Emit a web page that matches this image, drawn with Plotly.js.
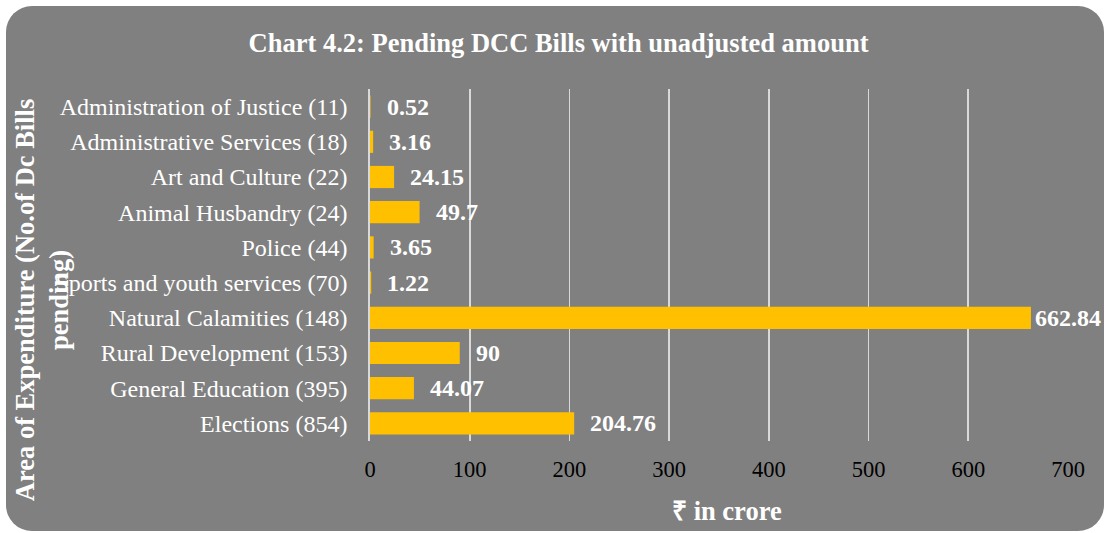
<!DOCTYPE html>
<html>
<head>
<meta charset="utf-8">
<script src="https://cdn.plot.ly/plotly-3.0.1.min.js"></script>
<style>
  html, body { margin: 0; padding: 0; background: #ffffff; }
  #bg { position: absolute; left: 6px; top: 6px; width: 1098px; height: 525px; background: #808080; border-radius: 26px; }
  #chart { position: absolute; left: 0; top: 0; width: 1106px; height: 533px; }
</style>
</head>
<body>
<div id="bg"></div>
<div id="chart"></div>
<script>
const categories = [
  "Elections (854)",
  "General Education (395)",
  "Rural Development (153)",
  "Natural Calamities (148)",
  "Sports and youth services (70)",
  "Police (44)",
  "Animal Husbandry (24)",
  "Art and Culture (22)",
  "Administrative Services (18)",
  "Administration of Justice (11)"
];
const values = [204.76, 44.07, 90, 662.84, 1.22, 3.65, 49.7, 24.15, 3.16, 0.52];
const labels = ["204.76", "44.07", "90", "662.84", "1.22", "3.65", "49.7", "24.15", "3.16", "0.52"];
const xTicks = [0, 100, 200, 300, 400, 500, 600, 700];

const serif = "Liberation Serif, Times New Roman, serif";

const trace = {
  type: "bar",
  orientation: "h",
  y: categories,
  x: values,
  marker: { color: "#FFC000" },
  hoverinfo: "x+y"
};

const annotations = values.map((v, i) => ({
  x: v, y: categories[i], xref: "x", yref: "y",
  text: "<b>" + labels[i] + "</b>",
  showarrow: false, xanchor: "left", yanchor: "middle",
  xshift: v > 600 ? 2 : 14,
  font: { family: serif, size: 24, color: "#ffffff" }
}));

annotations.push({
  text: "<b>Area of Expenditure (No.of Dc Bills<br>pending)</b>",
  textangle: -90, showarrow: false,
  xref: "paper", yref: "paper",
  x: -0.47, y: 0.40, xanchor: "center", yanchor: "middle",
  font: { family: serif, size: 26.5, color: "#ffffff" }
});

annotations.push({
  text: "<b>₹ in crore</b>",
  showarrow: false, xref: "paper", yref: "paper",
  x: 0.511, y: -0.20, xanchor: "center", yanchor: "middle",
  font: { family: serif, size: 26.5, color: "#ffffff" }
});

const layout = {
  width: 1106, height: 533,
  paper_bgcolor: "rgba(0,0,0,0)",
  plot_bgcolor: "rgba(0,0,0,0)",
  margin: { l: 370, r: 38, t: 89, b: 92 },
  showlegend: false,
  bargap: 0.37,
  title: {
    text: "<b>Chart 4.2: Pending DCC Bills with unadjusted amount</b>",
    font: { family: serif, size: 26.5, color: "#ffffff" },
    x: 0.505, xanchor: "center",
    y: 0.919, yanchor: "middle", yref: "container"
  },
  xaxis: {
    range: [0, 700],
    tickvals: xTicks,
    ticktext: xTicks.map(String),
    showgrid: true, gridcolor: "#d9d9d9", gridwidth: 1.8,
    zeroline: false, showline: false,
    ticks: "outside", ticklen: 8, tickcolor: "rgba(0,0,0,0)",
    tickfont: { family: serif, size: 22.5, color: "#000000" },
    fixedrange: true
  },
  yaxis: {
    type: "category",
    categoryorder: "array", categoryarray: categories,
    showgrid: false, zeroline: false,
    showline: true, linecolor: "#d9d9d9", linewidth: 1.8,
    ticks: "outside", ticklen: 16, tickcolor: "rgba(0,0,0,0)",
    tickfont: { family: serif, size: 24, color: "#ffffff" },
    fixedrange: true
  },
  annotations: annotations
};

Plotly.newPlot("chart", [trace], layout, { displayModeBar: false, staticPlot: true });
</script>
</body>
</html>
